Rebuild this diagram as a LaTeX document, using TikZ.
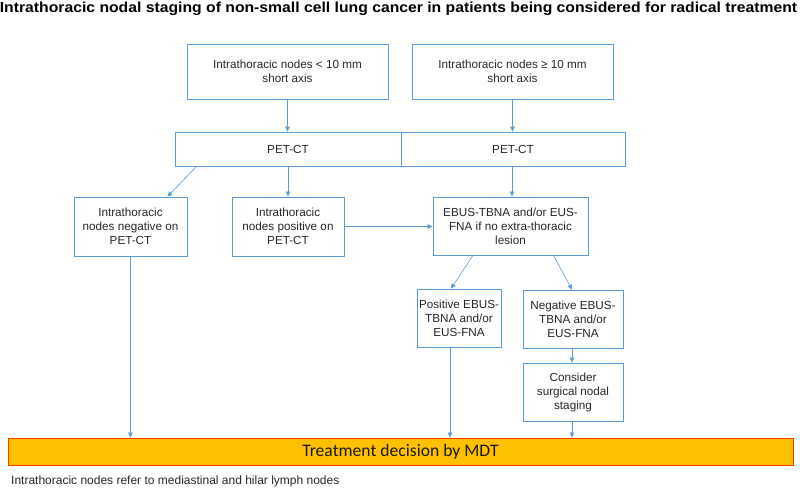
\documentclass[tikz,border=0pt]{standalone}
\usepackage{fontspec}
\setmainfont{Liberation Sans}
\newfontfamily\titlefont[FakeStretch=1.085]{Liberation Sans}
\newfontfamily\mdtfont{Carlito}
\usepackage{tikz}
\usetikzlibrary{positioning, arrows.meta}

\definecolor{boxblue}{RGB}{91,155,213}
\definecolor{mdtfill}{RGB}{255,192,0}
\definecolor{mdtline}{RGB}{255,60,0}

\begin{document}
\begin{tikzpicture}[
    x=1pt, y=-1pt,
    >={Triangle[length=5pt, width=4.5pt]},
    arr/.style={->, draw=boxblue, line width=0.6pt},
    box/.style={draw=boxblue, line width=0.8pt, align=center, inner sep=2pt,
        font=\fontsize{11.7}{14}\selectfont, text=black!85},
    decision/.style={draw=mdtline, fill=mdtfill, line width=0.8pt,
        font=\mdtfont\fontsize{17.6}{20}\selectfont, text=black!90}
]

\useasboundingbox (0,0) rectangle (800,495);

% Title
\node (title) at (398.5,9) {\titlefont\bfseries\fontsize{14.5}{17}\selectfont Intrathoracic nodal staging of non-small cell lung cancer in patients being considered for radical treatment};

% Size of the nodes
\node[box, minimum width=201, minimum height=55] (small) at (287.5,71.5) {Intrathoracic nodes < 10 mm\\short axis};
\node[box, minimum width=201, minimum height=55] (large) at (512.5,71.5) {Intrathoracic nodes ≥ 10 mm\\short axis};

% PET-CT row
\node[box, minimum width=226, minimum height=34] (petA) at (288,149) {PET-CT};
\node[box, minimum width=224, minimum height=34] (petB) at (513,149) {PET-CT};

% PET-CT results
\node[box, minimum width=113, minimum height=59] (petneg) at (130.5,226.5) {Intrathoracic\\nodes negative on\\PET-CT};
\node[box, minimum width=112, minimum height=59] (petpos) at (288,226.5) {Intrathoracic\\nodes positive on\\PET-CT};
\node[box, minimum width=155, minimum height=58] (ebus) at (510.5,226) {EBUS-TBNA and/or EUS-\\FNA if no extra-thoracic\\lesion};

% EBUS results
\node[box, minimum width=82, minimum height=58] (ebuspos) at (459,318) {Positive EBUS-\\TBNA and/or\\EUS-FNA};
\node[box, minimum width=100, minimum height=58] (ebusneg) at (573,319) {Negative EBUS-\\TBNA and/or\\EUS-FNA};
\node[box, minimum width=100, minimum height=58] (surgical) at (573,392) {Consider\\surgical nodal\\staging};

% Decision bar
\node[decision, minimum width=785, minimum height=27] (mdt) at (400.5,451.5) {Treatment decision by MDT};

% Footnote
\node[anchor=west, inner sep=0pt, text=black!85] (note) at (11,481.5) {\fontsize{12}{14}\selectfont Intrathoracic nodes refer to mediastinal and hilar lymph nodes};

% Connectors
\draw[arr] (small.south) -- (small.south |- petA.north);
\draw[arr] (large.south) -- (large.south |- petB.north);
\draw[arr] ([xshift=22pt]petA.south west) -- ([xshift=-20pt]petneg.north east);
\draw[arr] (petA.south) -- (petA.south |- petpos.north);
\draw[arr] ([xshift=-1pt]petB.south) -- ([xshift=-1pt]petB.south |- ebus.north);
\draw[arr] (petpos.east) -- (petpos.east -| ebus.west);
\draw[arr] ([xshift=-37.5pt]ebus.south) -- ([xshift=-8pt]ebuspos.north);
\draw[arr] ([xshift=43pt]ebus.south) -- ([xshift=-1pt]ebusneg.north);
\draw[arr] ([xshift=-1pt]ebusneg.south) -- ([xshift=-1pt]surgical.north);
\draw[arr] ([xshift=-1pt]surgical.south) -- ([xshift=-1pt]surgical.south |- mdt.north);
\draw[arr] ([xshift=-9pt]ebuspos.south) -- ([xshift=-9pt]ebuspos.south |- mdt.north);
\draw[arr] (petneg.south) -- (petneg.south |- mdt.north);

\end{tikzpicture}
\end{document}
